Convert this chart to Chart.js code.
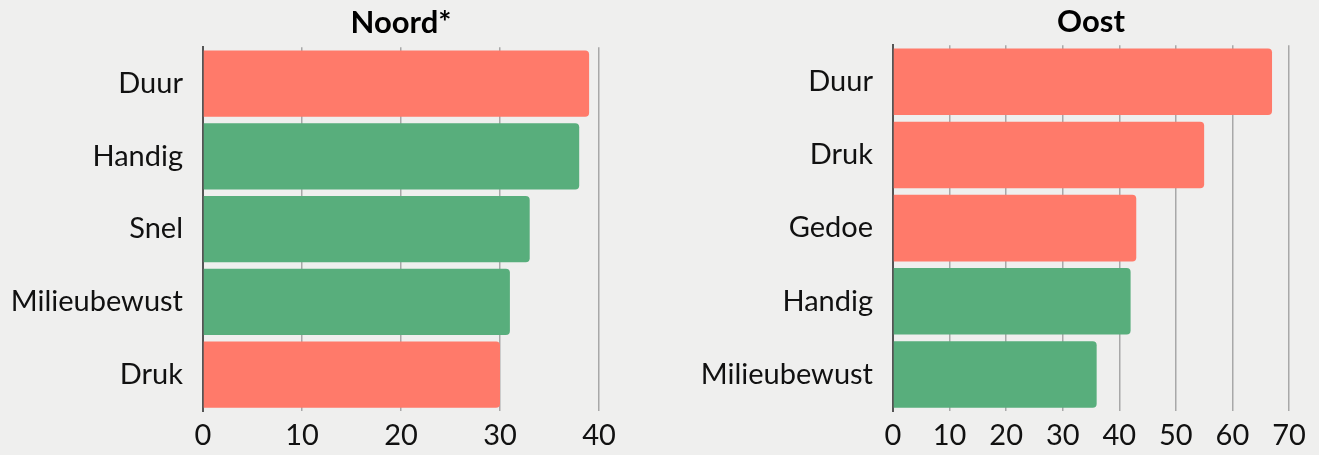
<!DOCTYPE html>
<html>
<head>
<meta charset="utf-8">
<script src="https://cdn.jsdelivr.net/npm/chart.js@4"></script>
<style>
  html, body { margin: 0; padding: 0; background: #efefee; }
  .wrap { position: absolute; top: 0; height: 455px; }
  #left { left: 0; width: 640px; }
  #right { left: 660px; width: 659px; }
</style>
</head>
<body>
<div class="wrap" id="left"><canvas id="noordChart"></canvas></div>
<div class="wrap" id="right"><canvas id="oostChart"></canvas></div>
<script>
const RED = "#ff7a6a";
const GREEN = "#58ae7c";

// Noord*
const noordLabels = ["Duur", "Handig", "Snel", "Milieubewust", "Druk"];
const noordValues = [39, 38, 33, 31, 30];
const noordColors = [RED, GREEN, GREEN, GREEN, RED];
const noordTicks = [0, 10, 20, 30, 40];

// Oost
const oostLabels = ["Duur", "Druk", "Gedoe", "Handig", "Milieubewust"];
const oostValues = [67, 55, 43, 42, 36];
const oostColors = [RED, RED, RED, GREEN, GREEN];
const oostTicks = [0, 10, 20, 30, 40, 50, 60, 70];

Chart.defaults.font.family = "Lato, 'Open Sans', sans-serif";
Chart.defaults.color = "#111";

function makeChart(id, title, labels, values, colors, maxVal, yWidth, padRight, titlePad) {
  new Chart(document.getElementById(id), {
    type: "bar",
    data: {
      labels: labels,
      datasets: [{
        data: values,
        backgroundColor: colors,
        borderRadius: 4,
        barPercentage: 0.91,
        categoryPercentage: 1
      }]
    },
    options: {
      indexAxis: "y",
      responsive: true,
      maintainAspectRatio: false,
      animation: false,
      layout: { padding: { left: 0, right: padRight, top: 0, bottom: 0 } },
      plugins: {
        legend: { display: false },
        tooltip: { enabled: false },
        title: {
          display: true,
          fullSize: false, // center over the plot area, not the canvas
          text: title,
          color: "#000",
          font: { size: 31, weight: "bold" },
          padding: titlePad
        }
      },
      scales: {
        x: {
          min: 0,
          max: maxVal,
          ticks: { stepSize: 10, font: { size: 29 }, padding: 7, color: "#111" },
          grid: { color: "#a8a8a8", lineWidth: 1.5, drawTicks: false },
          border: { display: false },
          afterFit: s => { s.height = 44; }
        },
        y: {
          ticks: { font: { size: 29 }, padding: 20, color: "#111" },
          grid: { display: false, drawTicks: false },
          border: { display: true, color: "#555", width: 2 },
          afterFit: s => { s.width = yWidth; }
        }
      }
    }
  });
}

makeChart("noordChart", "Noord*", noordLabels, noordValues, noordColors,
  noordTicks[noordTicks.length - 1], 203, 41, { top: 4, bottom: 6 });
makeChart("oostChart", "Oost", oostLabels, oostValues, oostColors,
  oostTicks[oostTicks.length - 1], 233, 30, { top: 3, bottom: 5 });
</script>
</body>
</html>
